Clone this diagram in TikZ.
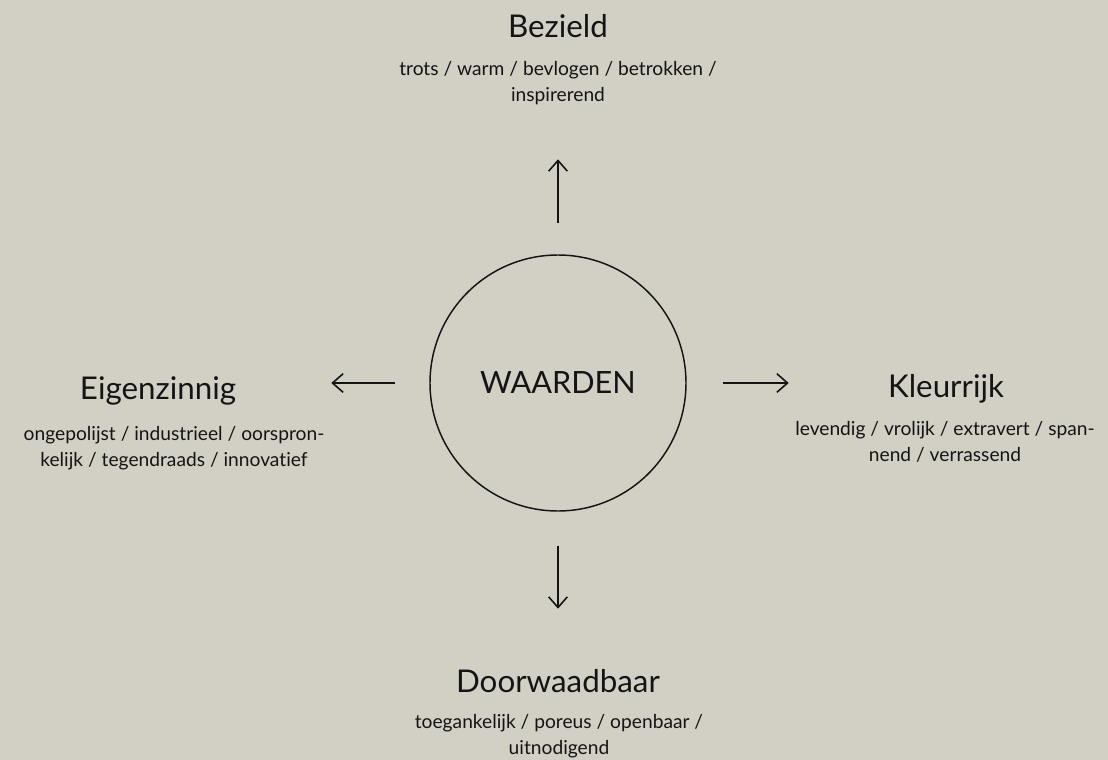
\documentclass[tikz,border=0pt]{standalone}
\usepackage{fontspec}
\setmainfont{Lato}[Ligatures={NoCommon}]
\usetikzlibrary{arrows.meta}
\definecolor{papier}{RGB}{210,208,197}
\definecolor{inkt}{RGB}{20,20,20}
\tikzset{
  kop/.style={anchor=base, text=inkt, inner sep=0pt, font=\fontsize{23.5}{28}\selectfont},
  omschrijving/.style={anchor=base, text=inkt, inner sep=0pt, align=center, font=\fontsize{14.4}{19.5}\selectfont},
  pijl/.style={draw=inkt, line width=1.2pt, -{Straight Barb[length=8pt,width=14pt,line width=1.2pt]}}
}
\begin{document}
\begin{tikzpicture}[x=0.75pt, y=-0.75pt]
  % Background
  \fill[papier] (0,0) rectangle (1108,760);
  \useasboundingbox (0,0) rectangle (1108,760);
  % Centre
  \node[draw=inkt, circle, line width=1.1pt, minimum size=192pt, inner sep=0pt,
        text=inkt, font=\fontsize{23}{27}\selectfont] (waarden) at (558,383) {WAARDEN};
  % Values (omschrijving is placed at the baseline of its last line)
  \node[kop] (bezield) at (558,37) {Bezield};
  \node[omschrijving] (bezield-tekst) at (558,101) {trots / warm / bevlogen / betrokken /\\inspirerend};
  \node[kop] (eigenzinnig) at (158,399) {Eigenzinnig};
  \node[omschrijving] (eigenzinnig-tekst) at (174,466) {ongepolijst / industrieel / oorspron-\\kelijk / tegendraads / innovatief};
  \node[kop] (kleurrijk) at (946,397) {Kleurrijk};
  \node[omschrijving] (kleurrijk-tekst) at (945,461) {levendig / vrolijk / extravert / span-\\nend / verrassend};
  \node[kop] (doorwaadbaar) at (558,692) {Doorwaadbaar};
  \node[omschrijving] (doorwaadbaar-tekst) at (559,754) {toegankelijk / poreus / openbaar /\\uitnodigend};
  % Arrows
  \draw[pijl] (waarden.north) ++(0,-31) -- ++(0,-64);
  \draw[pijl] (waarden.west) ++(-34,0) -- ++(-64,0);
  \draw[pijl] (waarden.east) ++(36,0) -- ++(66,0);
  \draw[pijl] (waarden.south) ++(0,34) -- ++(0,63);
\end{tikzpicture}
\end{document}
